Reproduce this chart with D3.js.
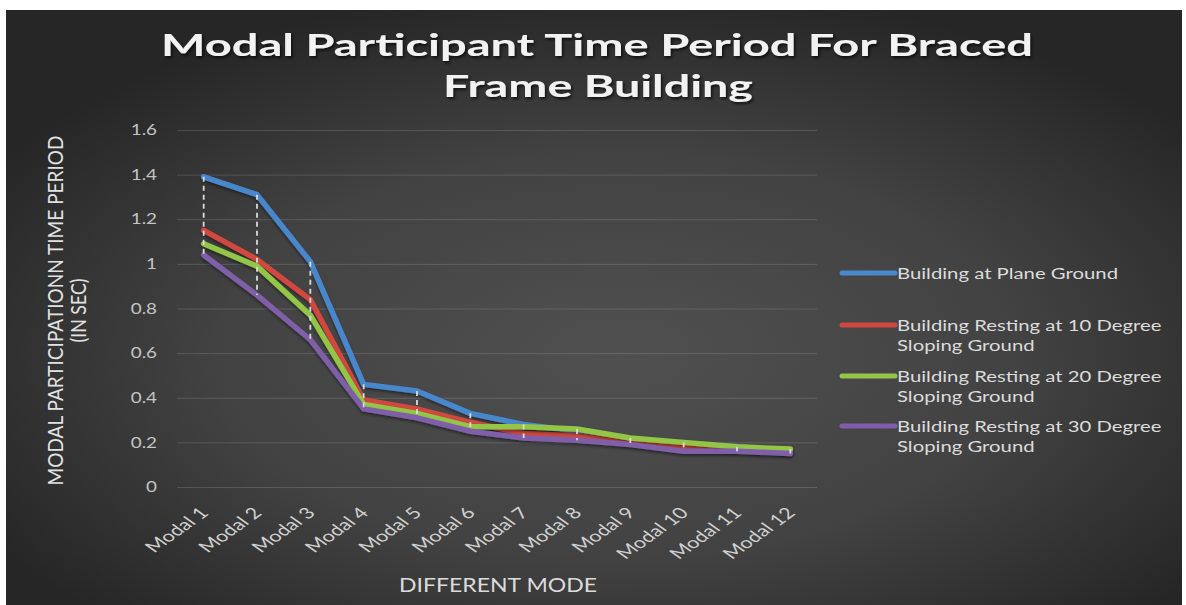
<!DOCTYPE html>
<html>
<head>
<meta charset="utf-8">
<script src="https://cdn.jsdelivr.net/npm/d3@7"></script>
<style>
  body { margin: 0; background: #ffffff; }
  svg { display: block; }
</style>
</head>
<body>
<div id="chart"></div>
<script>
// data
const categories = ['Modal 1', 'Modal 2', 'Modal 3', 'Modal 4', 'Modal 5', 'Modal 6',
  'Modal 7', 'Modal 8', 'Modal 9', 'Modal 10', 'Modal 11', 'Modal 12'];

const planeGround = [1.39, 1.31, 1.01, 0.46, 0.43, 0.33, 0.28, 0.25, 0.21, 0.19, 0.18, 0.16];
const slope10 = [1.15, 1.02, 0.84, 0.39, 0.35, 0.29, 0.24, 0.23, 0.20, 0.18, 0.17, 0.16];
const slope20 = [1.09, 0.99, 0.77, 0.37, 0.33, 0.27, 0.27, 0.26, 0.22, 0.20, 0.18, 0.17];
const slope30 = [1.04, 0.86, 0.66, 0.35, 0.31, 0.25, 0.22, 0.21, 0.19, 0.16, 0.16, 0.15];

const seriesNames = ['Building at Plane Ground',
  'Building Resting at 10 Degree Sloping Ground',
  'Building Resting at 20 Degree Sloping Ground',
  'Building Resting at 30 Degree Sloping Ground'];
const legendLines = [
  ['Building at Plane Ground'],
  ['Building Resting at 10 Degree', 'Sloping Ground'],
  ['Building Resting at 20 Degree', 'Sloping Ground'],
  ['Building Resting at 30 Degree', 'Sloping Ground']
];
const seriesColors = ['#4a87cc', '#d0483f', '#93c547', '#7e5ea8'];

const yTicks = [0, 0.2, 0.4, 0.6, 0.8, 1, 1.2, 1.4, 1.6];
const yTickLabels = ['0', '0.2', '0.4', '0.6', '0.8', '1', '1.2', '1.4', '1.6'];

const series = [planeGround, slope10, slope20, slope30].map((vals, i) => ({
  name: seriesNames[i],
  color: seriesColors[i],
  legend: legendLines[i],
  values: vals.map((v, j) => ({cat: categories[j], value: v}))
}));

const W = 1186, H = 605;
const plot = {left: 177, right: 817, top: 130, bottom: 487};
const stretch = 1.3; // the source picture is widened, text looks wide

const svg = d3.select('#chart').append('svg')
    .attr('width', W)
    .attr('height', H);

const defs = svg.append('defs');

// dark radial background like the office chart style
const bg = defs.append('radialGradient')
    .attr('id', 'bg-grad')
    .attr('cx', '52%').attr('cy', '58%').attr('r', '62%');
bg.append('stop').attr('offset', '0%').attr('stop-color', '#505050');
bg.append('stop').attr('offset', '55%').attr('stop-color', '#424242');
bg.append('stop').attr('offset', '100%').attr('stop-color', '#262626');

const shadow = defs.append('filter')
    .attr('id', 'shadow')
    .attr('x', '-10%').attr('y', '-20%').attr('width', '120%').attr('height', '150%');
shadow.append('feDropShadow')
    .attr('dx', 1.5).attr('dy', 2)
    .attr('stdDeviation', 1.5)
    .attr('flood-color', '#000')
    .attr('flood-opacity', 0.7);

const lineShadow = defs.append('filter')
    .attr('id', 'line-shadow')
    .attr('x', '-5%').attr('y', '-5%').attr('width', '110%').attr('height', '115%');
lineShadow.append('feDropShadow')
    .attr('dx', 0).attr('dy', 2)
    .attr('stdDeviation', 1.5)
    .attr('flood-color', '#000')
    .attr('flood-opacity', 0.45);

svg.append('rect')
    .attr('x', 6).attr('y', 10)
    .attr('width', 1176).attr('height', H - 10)
    .attr('fill', 'url(#bg-grad)');

// scales
const x = d3.scaleBand()
    .domain(categories)
    .range([plot.left, plot.right])
    .padding(0);
const cx = c => x(c) + x.bandwidth() / 2;

const y = d3.scaleLinear()
    .domain([0, 1.6])
    .range([plot.bottom, plot.top]);

// gridlines + y tick labels
const yAxis = d3.axisLeft(y)
    .tickValues(yTicks)
    .tickFormat((d, i) => yTickLabels[i])
    .tickSize(-(plot.right - plot.left))
    .tickPadding(20);

const yg = svg.append('g')
    .attr('transform', `translate(${plot.left},0)`)
    .call(yAxis);
yg.select('.domain').remove();
yg.selectAll('.tick line')
    .attr('stroke', '#ffffff')
    .attr('stroke-opacity', 0.14)
    .attr('stroke-width', 1);
yg.selectAll('.tick text')
    .attr('fill', '#c4c4c4')
    .attr('x', -20 / stretch)
    .attr('transform', `scale(${stretch},1)`)
    .style('font-family', 'Lato, sans-serif')
    .style('font-size', '14.5px');

// x tick labels, rotated
const xAxis = d3.axisBottom(x).tickSize(0).tickPadding(0);
const xg = svg.append('g')
    .attr('transform', `translate(0,${plot.bottom})`)
    .call(xAxis);
xg.select('.domain').remove();
xg.selectAll('.tick text')
    .attr('fill', '#d0d0d0')
    .style('font-family', 'Lato, sans-serif')
    .style('font-size', '15.5px')
    .attr('text-anchor', 'end')
    .attr('dy', 0)
    .attr('y', 0)
    .attr('transform', `translate(6,27) scale(${stretch + 0.1},1) rotate(-45)`);

// lines
const line = d3.line()
    .x(d => cx(d.cat))
    .y(d => y(d.value));

svg.append('g')
    .attr('class', 'series')
    .selectAll('path')
    .data(series)
    .join('path')
    .attr('d', d => line(d.values))
    .attr('fill', 'none')
    .attr('stroke', d => d.color)
    .attr('stroke-width', 5.5)
    .attr('stroke-linejoin', 'round')
    .attr('stroke-linecap', 'round')
    .attr('filter', 'url(#line-shadow)');

// high-low dashed lines
const hiLo = categories.map((c, j) => {
  const vals = series.map(s => s.values[j].value);
  return {cat: c, hi: d3.max(vals), lo: d3.min(vals)};
});
svg.append('g')
    .attr('class', 'hi-lo')
    .selectAll('line')
    .data(hiLo)
    .join('line')
    .attr('x1', d => cx(d.cat))
    .attr('x2', d => cx(d.cat))
    .attr('y1', d => y(d.hi))
    .attr('y2', d => y(d.lo))
    .attr('stroke', '#dadada')
    .attr('stroke-width', 1.8)
    .attr('stroke-dasharray', '5,4');

// legend
const legend = svg.append('g')
    .attr('class', 'legend')
    .attr('transform', 'translate(842,0)');
const legendY = [273, 325, 376, 426];
const items = legend.selectAll('g')
    .data(series)
    .join('g')
    .attr('transform', (d, i) => `translate(0,${legendY[i]})`);
items.append('line')
    .attr('x1', 0).attr('x2', 53)
    .attr('stroke', d => d.color)
    .attr('stroke-width', 5)
    .attr('stroke-linecap', 'round');
items.append('text')
    .attr('transform', 'translate(55,0) scale(1.27,1)')
    .attr('fill', '#dcdcdc')
    .style('font-family', 'Lato, sans-serif')
    .style('font-size', '16px')
    .selectAll('tspan')
    .data(d => d.legend)
    .join('tspan')
    .attr('x', 0)
    .attr('y', (d, i) => i * 20)
    .attr('dy', '0.35em')
    .text(d => d);

// title
const title = svg.append('g')
    .attr('fill', '#f2f2f2')
    .attr('filter', 'url(#shadow)')
    .style('font-family', 'Lato, sans-serif')
    .style('font-weight', 'bold')
    .style('font-size', '30px')
    .attr('text-anchor', 'middle');
title.append('text')
    .attr('x', 597).attr('y', 56)
    .attr('textLength', 872)
    .attr('lengthAdjust', 'spacingAndGlyphs')
    .text('Modal Participant Time Period For Braced');
title.append('text')
    .attr('x', 598).attr('y', 97)
    .attr('textLength', 310)
    .attr('lengthAdjust', 'spacingAndGlyphs')
    .text('Frame Building');

// axis titles
const yTitle = svg.append('g')
    .attr('transform', `translate(0,${(plot.top + plot.bottom) / 2 + 2}) rotate(-90)`)
    .attr('fill', '#e2e2e2')
    .style('font-family', 'Lato, sans-serif')
    .style('font-size', '21px')
    .attr('text-anchor', 'middle');
yTitle.append('text')
    .attr('x', 0).attr('y', 63)
    .attr('textLength', 350)
    .attr('lengthAdjust', 'spacingAndGlyphs')
    .text('MODAL PARTICIPATIONN TIME PERIOD');
yTitle.append('text')
    .attr('x', 0).attr('y', 86)
    .attr('textLength', 64)
    .attr('lengthAdjust', 'spacingAndGlyphs')
    .text('(IN SEC)');

svg.append('text')
    .attr('x', 498).attr('y', 592)
    .attr('text-anchor', 'middle')
    .attr('fill', '#dcdcdc')
    .style('font-family', 'Lato, sans-serif')
    .style('font-size', '19px')
    .attr('textLength', 198)
    .attr('lengthAdjust', 'spacingAndGlyphs')
    .text('DIFFERENT MODE');
</script>
</body>
</html>
